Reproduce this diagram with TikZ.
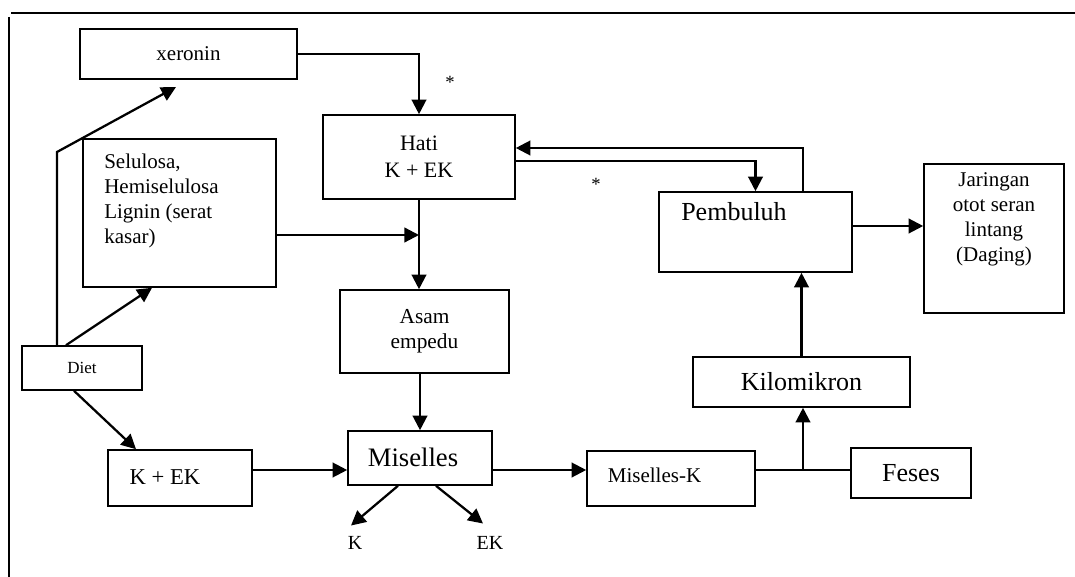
\documentclass[tikz,border=0pt]{standalone}
\usepackage{fontspec}
\setmainfont{Liberation Serif}
\usetikzlibrary{arrows.meta}

\begin{document}
\begin{tikzpicture}[
	x=0.75pt, y=-0.75pt,
	box/.style={ draw, line width=1.2pt, inner sep=0pt, align=center },
	txt/.style={ inner sep=0pt, align=center },
	flow/.style={ line width=1.7pt, -{Triangle[length=11pt,width=11pt]} },
	plain/.style={ line width=1.2pt },
	frame/.style={ line width=1.8pt }
]
\useasboundingbox (0,0) rectangle (1075,577);

% frame
\draw[frame] (11,13) -- (1075,13);
\draw[line width=1.2pt] (9,17) -- (9,577);

% boxes
\node at (188.5,54) (xeronin) [box, minimum width=162.75pt, minimum height=37.5pt, font=\fontsize{15.75}{18}\selectfont] {xeronin};
\node at (419,157) (hati) [box, minimum width=144pt, minimum height=63pt, font=\fontsize{16.5}{20}\selectfont] {Hati\\K + EK};
\node at (179.5,213) (serat) [box, minimum width=144.75pt, minimum height=111pt] {};
\node at (104,154) (serat-t) [txt, anchor=north west, align=left, font=\fontsize{15.75}{18.75}\selectfont] {Selulosa,\\Hemiselulosa\\Lignin (serat\\kasar)};
\node at (82,368) (diet) [box, minimum width=90pt, minimum height=33pt, font=\fontsize{12.75}{15}\selectfont] {Diet};
\node at (424.5,331.5) (asam) [box, minimum width=126.75pt, minimum height=62.25pt, font=\fontsize{16}{18.75}\selectfont] {Asam\\empedu};
\node at (180,478) (kek) [box, minimum width=108pt, minimum height=42pt] {};
\node at (165,477) (kek-t) [txt, font=\fontsize{17}{20}\selectfont] {K + EK};
\node at (420,458) (miselles) [box, minimum width=108pt, minimum height=40.5pt] {};
\node at (413,457) (miselles-t) [txt, font=\fontsize{20}{24}\selectfont] {Miselles};
\node at (355,543) (k) [txt, font=\fontsize{15}{18}\selectfont] {K};
\node at (490,543) (ek) [txt, font=\fontsize{15}{18}\selectfont] {EK};
\node at (671,478.5) (misk) [box, minimum width=126pt, minimum height=41.25pt] {};
\node at (654.5,475) (misk-t) [txt, font=\fontsize{15.75}{18}\selectfont] {Miselles-K};
\node at (911,473) (feses) [box, minimum width=90pt, minimum height=37.5pt, font=\fontsize{19.5}{22}\selectfont] {Feses};
\node at (801.5,382) (kilo) [box, minimum width=162.75pt, minimum height=37.5pt, font=\fontsize{19.5}{22}\selectfont] {Kilomikron};
\node at (755.5,232) (pembuluh) [box, minimum width=144.75pt, minimum height=60pt] {};
\node at (734,212) (pembuluh-t) [txt, font=\fontsize{19.5}{22}\selectfont] {Pembuluh};
\node at (994,238.5) (jaringan) [box, minimum width=105pt, minimum height=111.75pt] {};
\node at (994,219.5) (jaringan-t) [txt, font=\fontsize{15.75}{18.75}\selectfont] {Jaringan\\otot seran\\lintang\\(Daging)};
\node at (450,82) (star-a) [txt, font=\fontsize{14}{16}\selectfont] {*};
\node at (596,184) (star-b) [txt, font=\fontsize{14}{16}\selectfont] {*};

% helper points
\coordinate (bend) at (57,152);
\coordinate (xtip) at (176,87);
\coordinate (lvl) at (0,470);
\coordinate (junc) at (803,470);

% connectors
\draw[flow] (xeronin.east) -| (hati.north);
\draw[flow] (diet.north -| bend) -- (bend) -- (xtip);
\draw[flow] ([xshift=-12pt]diet.north) -- ([xshift=-20.6pt]serat.south);
\draw[flow] ([xshift=-6pt]diet.south) -- ([xshift=-33pt]kek.north);
\draw[flow] ([yshift=-16.5pt]serat.east) -- ([yshift=-16.5pt]serat.east -| hati.south);
\draw[flow] (hati.south) -- (hati.south |- asam.north);
\draw[flow] (asam.south -| miselles.north) -- (miselles.north);
\draw[flow] (kek.east |- lvl) -- (miselles.west |- lvl);
\draw[flow] ([xshift=-16.5pt]miselles.south) -- ([xshift=-3pt,yshift=8pt]k.north);
\draw[flow] ([xshift=12pt]miselles.south) -- ([xshift=-5.25pt,yshift=9.5pt]ek.north);
\draw[flow] (miselles.east |- lvl) -- (misk.west |- lvl);
\draw[plain] (misk.east |- lvl) -- (feses.west |- lvl);
\draw[flow] (junc) -- (junc |- kilo.south);
\draw[flow] (kilo.north) -- (kilo.north |- pembuluh.south);
\draw[flow] ([yshift=4.5pt]pembuluh.east) -- ([yshift=4.5pt]pembuluh.east -| jaringan.west);
\draw[flow] ([xshift=35.6pt]pembuluh.north) |- ([yshift=6.75pt]hati.east);
\draw[flow] ([yshift=-3pt]hati.east) -| (pembuluh.north);

\end{tikzpicture}
\end{document}
